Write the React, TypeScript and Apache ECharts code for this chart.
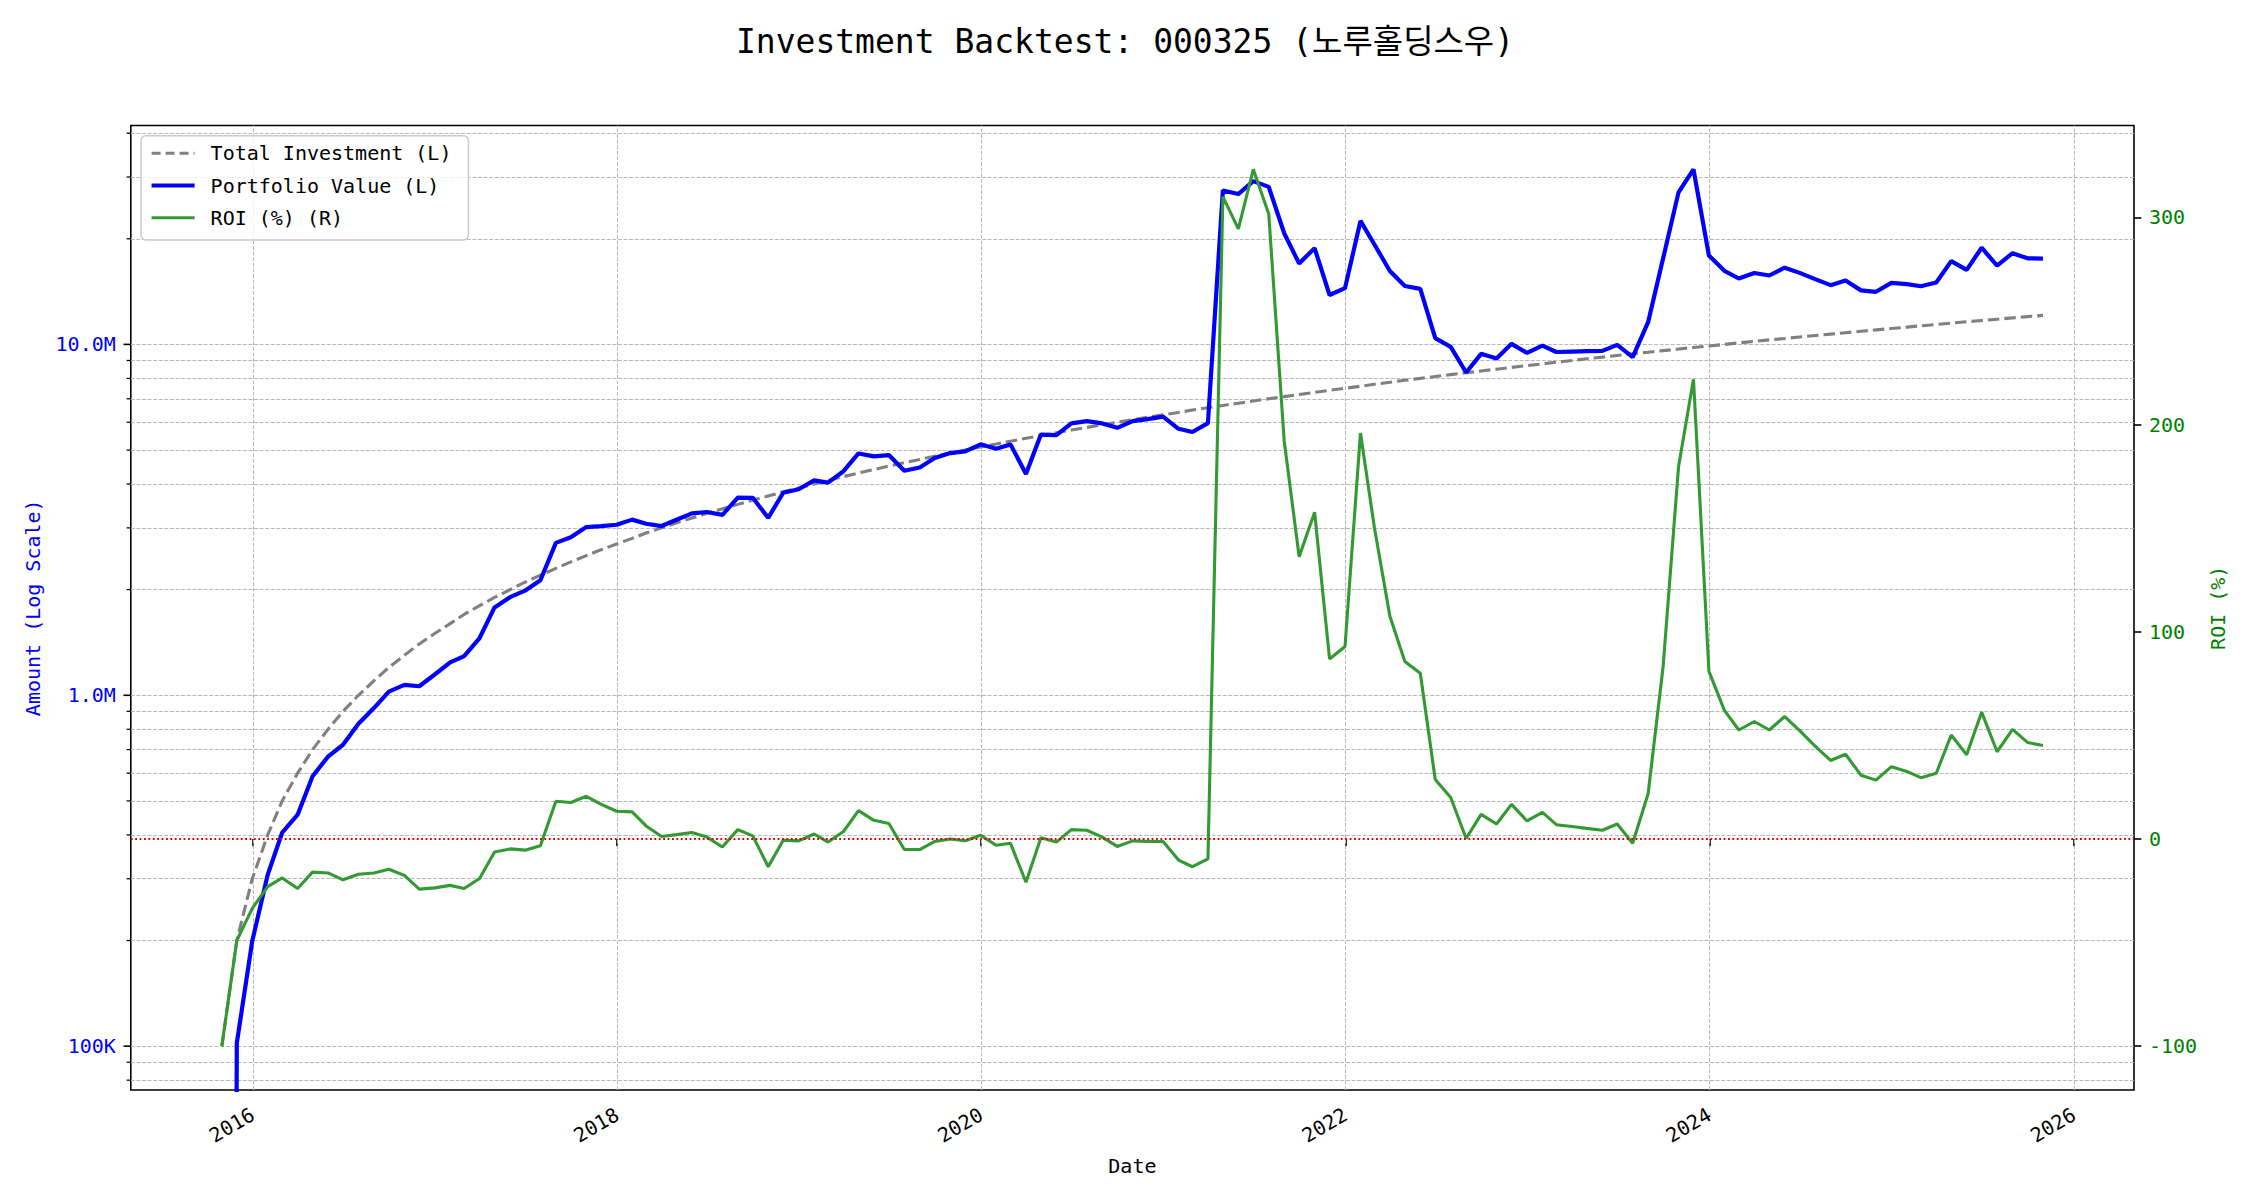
import React, { useEffect, useRef } from 'react';
import * as echarts from 'echarts';

// ---- data ----
const MONTHS: string[] = [
  '2015-10', '2015-11', '2015-12',
  '2016-01', '2016-02', '2016-03', '2016-04', '2016-05', '2016-06', '2016-07', '2016-08', '2016-09', '2016-10', '2016-11', '2016-12',
  '2017-01', '2017-02', '2017-03', '2017-04', '2017-05', '2017-06', '2017-07', '2017-08', '2017-09', '2017-10', '2017-11', '2017-12',
  '2018-01', '2018-02', '2018-03', '2018-04', '2018-05', '2018-06', '2018-07', '2018-08', '2018-09', '2018-10', '2018-11', '2018-12',
  '2019-01', '2019-02', '2019-03', '2019-04', '2019-05', '2019-06', '2019-07', '2019-08', '2019-09', '2019-10', '2019-11', '2019-12',
  '2020-01', '2020-02', '2020-03', '2020-04', '2020-05', '2020-06', '2020-07', '2020-08', '2020-09', '2020-10', '2020-11', '2020-12',
  '2021-01', '2021-02', '2021-03', '2021-04', '2021-05', '2021-06', '2021-07', '2021-08', '2021-09', '2021-10', '2021-11', '2021-12',
  '2022-01', '2022-02', '2022-03', '2022-04', '2022-05', '2022-06', '2022-07', '2022-08', '2022-09', '2022-10', '2022-11', '2022-12',
  '2023-01', '2023-02', '2023-03', '2023-04', '2023-05', '2023-06', '2023-07', '2023-08', '2023-09', '2023-10', '2023-11', '2023-12',
  '2024-01', '2024-02', '2024-03', '2024-04', '2024-05', '2024-06', '2024-07', '2024-08', '2024-09', '2024-10', '2024-11', '2024-12',
  '2025-01', '2025-02', '2025-03', '2025-04', '2025-05', '2025-06', '2025-07', '2025-08', '2025-09', '2025-10',
];

const TOTAL_INVESTMENT: number[] = [
  100000, 200000, 300000, 400000, 500000, 600000, 700000, 800000, 900000, 1000000, 1100000, 1200000,
  1300000, 1400000, 1500000, 1600000, 1700000, 1800000, 1900000, 2000000, 2100000, 2200000, 2300000, 2400000,
  2500000, 2600000, 2700000, 2800000, 2900000, 3000000, 3100000, 3200000, 3300000, 3400000, 3500000, 3600000,
  3700000, 3800000, 3900000, 4000000, 4100000, 4200000, 4300000, 4400000, 4500000, 4600000, 4700000, 4800000,
  4900000, 5000000, 5100000, 5200000, 5300000, 5400000, 5500000, 5600000, 5700000, 5800000, 5900000, 6000000,
  6100000, 6200000, 6300000, 6400000, 6500000, 6600000, 6700000, 6800000, 6900000, 7000000, 7100000, 7200000,
  7300000, 7400000, 7500000, 7600000, 7700000, 7800000, 7900000, 8000000, 8100000, 8200000, 8300000, 8400000,
  8500000, 8600000, 8700000, 8800000, 8900000, 9000000, 9100000, 9200000, 9300000, 9400000, 9500000, 9600000,
  9700000, 9800000, 9900000, 10000000, 10100000, 10200000, 10300000, 10400000, 10500000, 10600000, 10700000, 10800000,
  10900000, 11000000, 11100000, 11200000, 11300000, 11400000, 11500000, 11600000, 11700000, 11800000, 11900000, 12000000,
  12100000,
];

const PORTFOLIO_VALUE: number[] = [
  0, 102000, 199500, 308000, 406000, 456600, 588000, 668800, 722700, 830000, 919600, 1024800,
  1071200, 1061200, 1146000, 1241600, 1293700, 1456200, 1780300, 1904000, 1986600, 2127400, 2718600, 2822400,
  3015000, 3034200, 3061800, 3166800, 3082700, 3036000, 3165100, 3299200, 3329700, 3267400, 3657500, 3654000,
  3204200, 3777200, 3864900, 4096000, 4038500, 4351200, 4889100, 4796000, 4837500, 4365400, 4460300, 4742400,
  4900000, 4955000, 5191800, 5044000, 5188700, 4271400, 5533000, 5516000, 5956500, 6043600, 5953100, 5784000,
  6045100, 6125600, 6224400, 5747200, 5629000, 5966400, 27470000, 26826000, 29200800, 28119000, 20739100, 17006400,
  18812100, 13830600, 14467500, 22488400, 19265400, 16185000, 14670300, 14400000, 10424700, 9840000, 8316600, 9399600,
  9112000, 10036200, 9456900, 9926400, 9514100, 9540000, 9564100, 9586400, 9969600, 9202600, 11571000, 17568000,
  27121200, 31546200, 17909100, 16210000, 15412600, 15983400, 15717800, 16546400, 15991500, 15348800, 14755300, 15217200,
  14257200, 14124000, 14973900, 14851200, 14644800, 15013800, 17273000, 16309600, 18860400, 16767800, 18195100, 17592000,
  17557100,
];

const ROI_PCT: number[] = [
  -100, -49, -33.5, -23, -18.8, -23.9, -16, -16.4, -19.7, -17, -16.4, -14.6,
  -17.6, -24.2, -23.6, -22.4, -23.9, -19.1, -6.3, -4.8, -5.4, -3.3, 18.2, 17.6,
  20.6, 16.7, 13.4, 13.1, 6.3, 1.2, 2.1, 3.1, 0.9, -3.9, 4.5, 1.5,
  -13.4, -0.6, -0.9, 2.4, -1.5, 3.6, 13.7, 9.0, 7.5, -5.1, -5.1, -1.2,
  0, -0.9, 1.8, -3.0, -2.1, -20.9, 0.6, -1.5, 4.5, 4.2, 0.9, -3.6,
  -0.9, -1.2, -1.2, -10.2, -13.4, -9.6, 310.0, 294.5, 323.2, 301.7, 192.1, 136.2,
  157.7, 86.9, 92.9, 195.9, 150.2, 107.5, 85.7, 80.0, 28.7, 20.0, 0.2, 11.9,
  7.2, 16.7, 8.7, 12.8, 6.9, 6.0, 5.1, 4.2, 7.2, -2.1, 21.8, 83.0,
  179.6, 221.9, 80.9, 62.1, 52.6, 56.7, 52.6, 59.1, 52.3, 44.8, 37.9, 40.9,
  30.8, 28.4, 34.9, 32.6, 29.6, 31.7, 50.2, 40.6, 61.2, 42.1, 52.9, 46.6,
  45.1,
];

const YEAR_TICKS: number[] = [2016, 2018, 2020, 2022, 2024, 2026];
const LOG_MAJOR: number[] = [1e5, 1e6, 1e7];
const LOG_MINOR: number[] = [
  8e4, 9e4,
  2e5, 3e5, 4e5, 5e5, 6e5, 7e5, 8e5, 9e5,
  2e6, 3e6, 4e6, 5e6, 6e6, 7e6, 8e6, 9e6,
  2e7, 3e7, 4e7,
];
const ROI_TICKS: number[] = [-100, 0, 100, 200, 300];

const TITLE = 'Investment Backtest: 000325 (노루홀딩스우)';
const FONT = "'DejaVu Sans Mono', 'Noto Sans CJK KR', monospace";

function monthEnd(label: string): number {
  const [y, m] = label.split('-').map(Number);
  return Date.UTC(y, m, 0);
}

function amountLabel(v: number): string {
  const l = Math.log10(v);
  if (Math.abs(l - Math.round(l)) > 1e-6) return '';
  const p = Math.pow(10, Math.round(l));
  if (p >= 1e6) return (p / 1e6).toFixed(1) + 'M';
  return (p / 1e3).toFixed(0) + 'K';
}

export default function App() {
  const ref = useRef<HTMLDivElement>(null);

  useEffect(() => {
    document.body.style.margin = '0';
    if (!ref.current) return;
    const chart = echarts.init(ref.current, null, { renderer: 'svg' });

    const times = MONTHS.map(monthEnd);
    const span = times[times.length - 1] - times[0];
    const xMin = times[0] - 0.05 * span;
    const xMax = times[times.length - 1] + 0.05 * span;

    const positives = [...TOTAL_INVESTMENT, ...PORTFOLIO_VALUE].filter((v) => v > 0);
    const lo = Math.log10(Math.min(...positives));
    const hi = Math.log10(Math.max(...positives));
    const yMin = Math.pow(10, lo - 0.05 * (hi - lo));
    const yMax = Math.pow(10, hi + 0.05 * (hi - lo));

    const rLo = Math.min(...ROI_PCT);
    const rHi = Math.max(...ROI_PCT);
    const rMin = rLo - 0.05 * (rHi - rLo);
    const rMax = rHi + 0.05 * (rHi - rLo);

    const yearTs = YEAR_TICKS.map((y) => Date.UTC(y, 0, 1));
    const GRID = { left: 130.8, right: 116, top: 125.5, bottom: 110 };

    const gridStyle = { color: '#b8b8b8', width: 1, type: [3.9, 1.7] as number[] };
    const hLines = [...LOG_MAJOR, ...LOG_MINOR]
      .filter((v) => v >= yMin && v <= yMax)
      .map((v) => ({ yAxis: v }));
    const vLines = yearTs.map((t) => ({ xAxis: t }));

    const option: any = {
      animation: false,
      textStyle: { fontFamily: FONT },
      title: {
        text: TITLE,
        left: 'center',
        top: 20,
        textStyle: { fontSize: 33, fontWeight: 'normal', fontFamily: FONT, color: '#000' },
      },
      grid: {
        ...GRID,
        show: true,
        borderColor: '#000',
        borderWidth: 1.6,
        backgroundColor: 'transparent',
        containLabel: false,
      },
      legend: {
        data: [
          { name: 'Total Investment (L)', lineStyle: { color: '#808080', width: 3.1, type: [9, 5] } },
          { name: 'Portfolio Value (L)', lineStyle: { color: '#0000ff', width: 4.2, type: 'solid' } },
          { name: 'ROI (%) (R)', lineStyle: { color: '#339933', width: 3.1, type: 'solid' } },
        ],
        orient: 'vertical',
        left: 141,
        top: 135.7,
        itemWidth: 43,
        itemHeight: 14,
        itemGap: 8.2,
        padding: [5.6, 17, 10.3, 8.5],
        backgroundColor: 'rgba(255,255,255,0.8)',
        borderColor: '#cccccc',
        borderWidth: 1.5,
        borderRadius: 5,
        itemStyle: { opacity: 0 },
        textStyle: { fontSize: 20, fontFamily: FONT, color: '#000', lineHeight: 24, padding: [0, 0, 0, 11] },
      },
      xAxis: {
        type: 'value',
        min: xMin,
        max: xMax,
        axisLine: { show: false },
        axisTick: { show: true, customValues: yearTs, length: 7.3, lineStyle: { color: '#000', width: 1.6 } },
        axisLabel: {
          customValues: yearTs,
          formatter: (v: number) => String(new Date(v + 86400000).getUTCFullYear()),
          rotate: 30,
          margin: 23,
          fontSize: 20,
          lineHeight: 20,
          color: '#000',
          fontFamily: FONT,
        },
        splitLine: { show: false },
        name: 'Date',
        nameLocation: 'middle',
        nameGap: 66,
        nameTextStyle: { fontSize: 20, color: '#000', fontFamily: FONT },
      },
      yAxis: [
        {
          type: 'log',
          logBase: 10,
          min: yMin,
          max: yMax,
          position: 'left',
          axisLine: { show: false },
          axisTick: { show: false },
          axisLabel: { formatter: amountLabel, color: '#0000ff', fontSize: 20, margin: 15, fontFamily: FONT },
          splitLine: { show: false },
          name: 'Amount (Log Scale)',
          nameLocation: 'middle',
          nameGap: 88,
          nameTextStyle: { fontSize: 20, color: '#0000ff', fontFamily: FONT },
        },
        {
          type: 'value',
          min: rMin,
          max: rMax,
          position: 'right',
          axisLine: { show: false },
          axisTick: { show: true, customValues: ROI_TICKS, length: 7.3, lineStyle: { color: '#000', width: 1.6 } },
          axisLabel: {
            customValues: ROI_TICKS,
            formatter: (v: number) => String(Math.round(v)),
            color: '#008000',
            fontSize: 20,
            margin: 15,
            fontFamily: FONT,
          },
          splitLine: { show: false },
          name: 'ROI (%)',
          nameLocation: 'middle',
          nameGap: 71,
          nameTextStyle: { fontSize: 20, color: '#008000', fontFamily: FONT },
        },
      ],
      series: [
        {
          name: 'Total Investment (L)',
          type: 'line',
          xAxisIndex: 0,
          yAxisIndex: 0,
          symbol: 'none',
          z: 2,
          data: times.map((t, i) => [t, TOTAL_INVESTMENT[i]]),
          lineStyle: { color: '#808080', width: 3.1, type: [11.5, 5] },
          itemStyle: { color: '#808080' },
          markLine: {
            silent: true,
            z: 1,
            symbol: ['none', 'none'],
            label: { show: false },
            emphasis: { disabled: true },
            lineStyle: gridStyle,
            data: [...hLines, ...vLines],
          },
        },
        {
          name: 'Portfolio Value (L)',
          type: 'line',
          xAxisIndex: 0,
          yAxisIndex: 0,
          symbol: 'none',
          z: 2,
          // a value of 0 cannot sit on a log axis: clip it to a tiny positive number, as matplotlib does
          data: times.map((t, i) => [t, PORTFOLIO_VALUE[i] > 0 ? PORTFOLIO_VALUE[i] : 1e-6]),
          lineStyle: { color: '#0000ff', width: 4.2 },
          itemStyle: { color: '#0000ff' },
        },
        {
          name: 'ROI (%) (R)',
          type: 'line',
          xAxisIndex: 0,
          yAxisIndex: 1,
          symbol: 'none',
          z: 3,
          data: times.map((t, i) => [t, ROI_PCT[i]]),
          lineStyle: { color: '#339933', width: 3.1 },
          itemStyle: { color: '#339933' },
          markLine: {
            silent: true,
            z: 4,
            symbol: ['none', 'none'],
            label: { show: false },
            emphasis: { disabled: true },
            lineStyle: { color: '#e00000', width: 1.8, type: [1.8, 2.6] },
            data: [{ yAxis: 0 }],
          },
        },
      ],
    };

    chart.setOption(option);

    const tickDefs = [
      ...LOG_MAJOR.map((v) => ({ v, len: 7.3, w: 1.6 })),
      ...LOG_MINOR.map((v) => ({ v, len: 4.2, w: 1.25 })),
    ].filter((t) => t.v >= yMin && t.v <= yMax);
    const graphics = tickDefs.map((t) => {
      const y = chart.convertToPixel({ yAxisIndex: 0 } as any, t.v) as unknown as number;
      return {
        type: 'line',
        silent: true,
        z: 10,
        shape: { x1: GRID.left - t.len, y1: y, x2: GRID.left, y2: y },
        style: { stroke: '#000', lineWidth: t.w },
      };
    });
    chart.setOption({ graphic: graphics });

    return () => {
      chart.dispose();
    };
  }, []);

  return <div ref={ref} style={{ width: 2250, height: 1200 }} />;
}
